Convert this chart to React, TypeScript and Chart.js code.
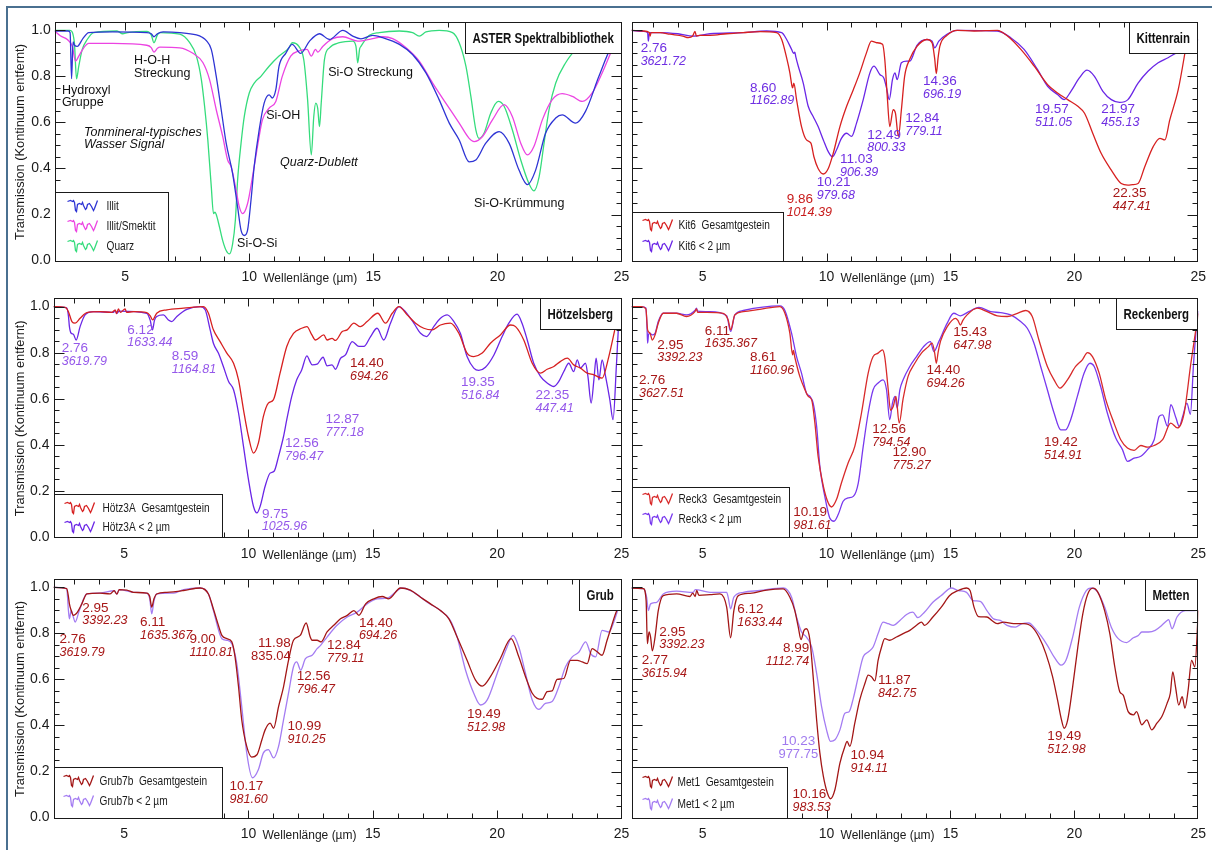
import { useEffect, useRef } from 'react';
import { Chart, registerables } from 'chart.js';

Chart.register(...registerables);

type Pt = [number, number];

const FONT = '"Liberation Sans", Arial, Helvetica, sans-serif';
const W = 1212;
const H = 850;

// ---------- tick values ----------
const X_TICKS = [5, 10, 15, 20, 25];
const Y_TICKS = [0, 0.2, 0.4, 0.6, 0.8, 1.0];

// ---------- ASTER library ----------
const ILLIT: Pt[] = [[2.16,0.997],[2.7,0.997],[2.78,0.99],[2.84,0.79],[2.9,0.95],[2.96,0.935],[3.07,0.93],[3.3,0.965],[3.53,0.99],[4.5,0.993],[5.87,0.99],[6.05,0.985],[6.16,0.972],[6.3,0.985],[6.53,0.993],[7.2,0.99],[7.87,0.98],[8.1,0.97],[8.27,0.955],[8.47,0.917],[8.67,0.8],[8.87,0.655],[9.07,0.51],[9.33,0.378],[9.53,0.233],[9.67,0.131],[9.8,0.109],[9.93,0.131],[10.07,0.262],[10.2,0.41],[10.4,0.568],[10.6,0.684],[10.8,0.72],[10.93,0.706],[11.07,0.742],[11.2,0.844],[11.47,0.9],[11.73,0.939],[12.07,0.9],[12.43,0.953],[12.83,0.985],[13.23,0.96],[13.77,1.0],[14.17,0.975],[14.5,0.963],[14.97,0.978],[15.38,0.968],[16.05,0.939],[16.58,0.895],[17.12,0.815],[17.65,0.699],[18.06,0.597],[18.46,0.524],[18.86,0.429],[19.13,0.437],[19.53,0.51],[20.07,0.56],[20.47,0.51],[20.87,0.393],[21.21,0.33],[21.54,0.393],[21.94,0.553],[22.35,0.619],[22.61,0.633],[23.15,0.597],[23.55,0.648],[24.09,0.8],[24.6,0.93],[25,0.97]];
const ILLIT_SMEKTIT: Pt[] = [[2.16,0.997],[2.4,0.975],[2.67,0.96],[2.87,0.93],[3.0,0.866],[3.13,0.888],[3.33,0.924],[3.53,0.943],[4.5,0.943],[5.87,0.935],[6.05,0.925],[6.16,0.905],[6.3,0.922],[6.4,0.927],[7.2,0.924],[7.73,0.9],[8.13,0.86],[8.4,0.786],[8.67,0.655],[8.93,0.539],[9.13,0.437],[9.27,0.408],[9.47,0.306],[9.6,0.233],[9.73,0.204],[9.93,0.247],[10.13,0.364],[10.33,0.495],[10.53,0.611],[10.8,0.662],[11.07,0.691],[11.33,0.8],[11.67,0.888],[12.0,0.91],[12.33,0.917],[12.5,0.888],[12.67,0.917],[12.76,0.905],[12.96,0.93],[13.36,0.964],[13.77,0.972],[14.37,0.953],[14.97,0.964],[15.38,0.972],[15.78,0.964],[16.32,0.924],[16.85,0.866],[17.39,0.771],[17.92,0.684],[18.46,0.597],[18.86,0.531],[19.06,0.517],[19.4,0.539],[19.8,0.611],[20.27,0.677],[20.6,0.626],[20.94,0.51],[21.21,0.459],[21.47,0.495],[21.81,0.611],[22.21,0.699],[22.61,0.725],[23.02,0.713],[23.42,0.691],[23.82,0.728],[24.22,0.815],[24.69,0.93],[25,0.98]];
const QUARZ: Pt[] = [[2.16,1.0],[2.77,1.0],[2.95,0.95],[3.04,0.789],[3.13,0.844],[3.27,0.917],[3.47,0.96],[3.73,0.99],[4.67,0.997],[4.9,0.985],[5.1,0.99],[5.87,0.995],[6.05,0.98],[6.16,0.946],[6.3,0.98],[6.4,0.99],[7.2,0.983],[7.6,0.946],[7.87,0.888],[8.07,0.786],[8.2,0.67],[8.33,0.524],[8.47,0.32],[8.56,0.204],[8.62,0.21],[8.67,0.2],[8.8,0.146],[8.93,0.087],[9.07,0.044],[9.2,0.029],[9.33,0.073],[9.44,0.175],[9.53,0.349],[9.67,0.51],[9.8,0.626],[10.0,0.728],[10.2,0.771],[10.47,0.8],[10.8,0.844],[11.2,0.888],[11.6,0.924],[11.73,0.946],[12.0,0.93],[12.2,0.87],[12.35,0.7],[12.5,0.459],[12.6,0.626],[12.68,0.684],[12.76,0.66],[12.83,0.582],[12.9,0.684],[13.03,0.873],[13.23,0.924],[13.63,0.946],[14.17,0.953],[14.3,0.93],[14.37,0.859],[14.45,0.92],[14.5,0.93],[14.84,0.978],[15.24,0.99],[16.05,0.997],[16.58,0.99],[16.85,0.975],[17.12,0.993],[17.65,1.0],[18.19,0.99],[18.46,0.946],[18.73,0.844],[18.93,0.713],[19.13,0.568],[19.26,0.531],[19.46,0.553],[19.73,0.64],[20.03,0.691],[20.27,0.67],[20.6,0.568],[20.94,0.437],[21.27,0.335],[21.47,0.303],[21.68,0.364],[21.88,0.51],[22.08,0.655],[22.35,0.771],[22.75,0.859],[23.15,0.917],[23.55,0.96],[24.0,0.99],[25,1.0]];

// ---------- Kittenrain ----------
const KIT6_GES: Pt[] = [[2.13,1.0],[2.6,0.997],[2.85,0.99],[2.88,0.975],[2.92,0.99],[3.28,0.99],[3.68,0.983],[4.2,0.975],[4.42,0.968],[4.6,0.975],[4.69,0.995],[4.75,0.975],[4.89,0.978],[5.3,0.978],[5.97,0.985],[6.64,0.99],[7.31,0.994],[7.98,0.99],[8.19,0.96],[8.39,0.88],[8.52,0.815],[8.6,0.76],[8.63,0.75],[8.68,0.77],[8.79,0.699],[8.99,0.582],[9.19,0.524],[9.37,0.51],[9.49,0.451],[9.66,0.4],[9.87,0.376],[10.07,0.4],[10.27,0.466],[10.54,0.582],[10.81,0.67],[11.08,0.742],[11.34,0.815],[11.61,0.902],[11.81,0.953],[12.02,0.946],[12.26,0.939],[12.35,0.873],[12.45,0.713],[12.55,0.582],[12.69,0.655],[12.78,0.64],[12.9,0.539],[13.02,0.655],[13.15,0.8],[13.36,0.875],[13.65,0.93],[14.05,0.96],[14.26,0.945],[14.36,0.88],[14.43,0.812],[14.5,0.88],[14.57,0.93],[14.86,0.978],[15.27,1.0],[15.95,0.997],[16.89,1.0],[17.3,0.975],[17.84,0.917],[18.38,0.844],[18.92,0.764],[19.32,0.728],[19.73,0.699],[20.14,0.67],[20.41,0.64],[20.74,0.553],[21.08,0.466],[21.49,0.393],[21.89,0.335],[22.16,0.328],[22.35,0.33],[22.57,0.335],[22.84,0.408],[23.18,0.495],[23.45,0.531],[23.65,0.524],[23.85,0.611],[24.19,0.742],[24.46,0.902],[24.59,0.99],[24.7,1.02]];
const KIT6_2UM: Pt[] = [[2.13,1.0],[2.6,0.995],[2.78,0.99],[2.81,0.953],[2.85,0.99],[3.28,0.99],[4.0,0.985],[4.62,0.975],[5.3,0.985],[6.64,0.99],[7.58,0.997],[8.19,0.99],[8.39,0.96],[8.59,0.917],[8.67,0.9],[8.72,0.905],[8.76,0.885],[8.86,0.844],[9.06,0.771],[9.26,0.67],[9.46,0.626],[9.66,0.582],[9.87,0.524],[10.07,0.473],[10.24,0.451],[10.4,0.48],[10.6,0.531],[10.81,0.553],[11.01,0.539],[11.21,0.597],[11.48,0.699],[11.75,0.815],[11.91,0.844],[12.15,0.808],[12.31,0.793],[12.42,0.75],[12.53,0.699],[12.66,0.786],[12.76,0.815],[12.85,0.786],[13.02,0.859],[13.23,0.866],[13.36,0.866],[13.65,0.935],[14.05,0.96],[14.26,0.953],[14.36,0.924],[14.53,0.953],[14.86,0.983],[15.27,1.0],[16.89,0.997],[17.43,0.968],[17.97,0.917],[18.51,0.83],[18.92,0.757],[19.32,0.721],[19.59,0.699],[19.86,0.735],[20.2,0.793],[20.51,0.827],[20.81,0.8],[21.15,0.735],[21.49,0.699],[21.82,0.687],[22.16,0.699],[22.57,0.771],[22.97,0.822],[23.38,0.859],[23.78,0.881],[24.12,0.902],[24.5,0.92],[25,0.96]];

// ---------- Hötzelsberg ----------
const HOETZ_GES: Pt[] = [[2.16,1.0],[2.63,0.997],[2.76,0.978],[2.9,0.935],[3.03,0.928],[3.23,0.949],[3.5,0.974],[4.03,0.978],[4.5,0.975],[4.64,0.985],[4.7,0.97],[4.77,0.99],[4.85,0.975],[5.04,0.99],[5.1,0.975],[5.38,0.978],[5.91,0.974],[6.05,0.96],[6.15,0.942],[6.25,0.96],[6.31,0.971],[6.72,0.986],[7.39,0.993],[8.19,1.0],[8.39,0.971],[8.59,0.899],[8.86,0.848],[9.13,0.798],[9.4,0.754],[9.6,0.682],[9.8,0.552],[10.0,0.436],[10.2,0.364],[10.4,0.408],[10.6,0.523],[10.8,0.581],[11.0,0.595],[11.27,0.711],[11.54,0.827],[11.81,0.884],[12.14,0.906],[12.35,0.913],[12.55,0.877],[12.69,0.855],[13.03,0.877],[13.16,0.855],[13.36,0.862],[13.5,0.853],[13.77,0.892],[13.97,0.899],[14.24,0.928],[14.5,0.913],[14.77,0.935],[15.2,0.971],[15.51,0.928],[15.78,0.971],[16.05,1.0],[16.38,0.964],[16.72,0.928],[17.05,0.906],[17.39,0.899],[17.72,0.92],[18.12,0.928],[18.46,0.884],[18.79,0.798],[19.06,0.783],[19.4,0.798],[19.73,0.841],[20.13,0.877],[20.54,0.92],[20.74,0.913],[21.07,0.855],[21.41,0.754],[21.74,0.711],[22.01,0.728],[22.28,0.74],[22.55,0.762],[22.82,0.776],[23.08,0.747],[23.35,0.733],[23.62,0.711],[23.89,0.704],[24.22,0.689],[24.49,0.783],[24.76,0.913],[24.89,0.971],[25,1.0]];
const HOETZ_2UM: Pt[] = [[2.16,1.0],[2.69,0.994],[2.76,0.96],[2.8,0.913],[2.87,0.884],[2.96,0.88],[3.07,0.855],[3.23,0.913],[3.43,0.964],[3.77,0.978],[4.57,0.975],[4.64,0.985],[4.7,0.97],[4.8,0.98],[5.91,0.971],[6.05,0.94],[6.14,0.899],[6.22,0.94],[6.31,0.957],[6.58,0.964],[6.78,0.942],[6.92,0.935],[7.12,0.957],[7.52,0.988],[8.06,1.0],[8.26,0.986],[8.46,0.899],[8.59,0.841],[8.79,0.798],[8.99,0.74],[9.2,0.675],[9.4,0.639],[9.6,0.538],[9.8,0.393],[10.0,0.249],[10.2,0.133],[10.34,0.104],[10.47,0.133],[10.67,0.22],[10.87,0.277],[11.03,0.285],[11.21,0.35],[11.41,0.436],[11.54,0.509],[11.74,0.61],[11.94,0.682],[12.14,0.725],[12.35,0.786],[12.48,0.76],[12.56,0.747],[12.76,0.75],[13.0,0.78],[13.16,0.743],[13.36,0.747],[13.5,0.728],[13.7,0.775],[13.9,0.79],[14.17,0.848],[14.44,0.827],[14.64,0.827],[14.91,0.87],[15.17,0.906],[15.44,0.855],[15.71,0.928],[16.05,1.0],[16.31,0.978],[16.65,0.928],[16.92,0.884],[17.16,0.87],[17.45,0.913],[17.72,0.949],[17.99,0.964],[18.26,0.935],[18.52,0.884],[18.79,0.783],[19.06,0.733],[19.26,0.723],[19.53,0.737],[19.87,0.79],[20.2,0.87],[20.47,0.928],[20.8,0.967],[21.0,0.928],[21.21,0.855],[21.47,0.754],[21.74,0.697],[22.01,0.668],[22.28,0.653],[22.48,0.675],[22.68,0.718],[22.88,0.754],[23.08,0.718],[23.22,0.769],[23.35,0.733],[23.55,0.754],[23.65,0.697],[23.78,0.581],[23.89,0.682],[23.98,0.776],[24.09,0.682],[24.22,0.769],[24.36,0.697],[24.53,0.596],[24.66,0.509],[24.8,0.754],[24.89,0.928],[25,1.0]];

// ---------- Reckenberg ----------
const RECK3_GES: Pt[] = [[2.13,1.0],[2.54,1.0],[2.71,0.99],[2.78,0.899],[2.88,0.884],[2.97,0.855],[3.08,0.877],[3.21,0.928],[3.41,0.971],[3.95,0.971],[4.35,0.957],[4.69,0.978],[4.75,0.99],[4.8,0.975],[5.16,0.975],[5.83,0.971],[6.03,0.942],[6.13,0.899],[6.3,0.964],[6.64,0.978],[7.31,0.988],[8.12,1.0],[8.32,0.971],[8.52,0.884],[8.63,0.79],[8.66,0.81],[8.72,0.78],[8.92,0.697],[9.13,0.639],[9.26,0.61],[9.4,0.595],[9.53,0.494],[9.66,0.35],[9.87,0.22],[10.07,0.147],[10.2,0.13],[10.4,0.162],[10.6,0.234],[10.87,0.321],[11.14,0.393],[11.41,0.538],[11.68,0.711],[11.88,0.783],[12.08,0.798],[12.26,0.812],[12.35,0.78],[12.49,0.639],[12.58,0.55],[12.69,0.566],[12.8,0.61],[12.93,0.494],[13.09,0.6],[13.29,0.697],[13.56,0.754],[13.83,0.798],[14.1,0.825],[14.26,0.841],[14.36,0.8],[14.43,0.754],[14.5,0.8],[14.6,0.85],[14.87,0.913],[15.2,0.949],[15.3,0.94],[15.4,0.92],[15.5,0.94],[15.67,0.964],[16.08,0.993],[16.48,0.978],[16.89,0.96],[17.29,0.957],[17.7,0.971],[18.03,0.983],[18.3,0.957],[18.57,0.855],[18.91,0.74],[19.18,0.682],[19.42,0.646],[19.72,0.682],[20.05,0.74],[20.32,0.769],[20.53,0.8],[20.73,0.783],[21.0,0.711],[21.27,0.595],[21.6,0.494],[21.87,0.422],[22.14,0.386],[22.41,0.376],[22.68,0.397],[22.95,0.39],[23.22,0.397],[23.56,0.422],[23.89,0.494],[24.16,0.473],[24.43,0.538],[24.7,0.754],[24.9,0.899],[25,0.97]];
const RECK3_2UM: Pt[] = [[2.13,1.0],[2.54,1.0],[2.71,0.994],[2.76,0.9],[2.78,0.841],[2.82,0.88],[2.88,0.884],[2.97,0.877],[3.08,0.884],[3.21,0.935],[3.41,0.971],[3.95,0.971],[4.35,0.964],[4.69,0.983],[4.75,0.993],[4.8,0.98],[5.3,0.978],[5.97,0.96],[6.13,0.892],[6.3,0.964],[6.64,0.983],[8.12,1.003],[8.32,0.983],[8.59,0.884],[8.79,0.783],[8.99,0.711],[9.19,0.624],[9.33,0.61],[9.46,0.581],[9.6,0.48],[9.73,0.306],[9.93,0.176],[10.13,0.082],[10.3,0.068],[10.47,0.097],[10.67,0.155],[10.87,0.169],[11.08,0.176],[11.28,0.234],[11.48,0.393],[11.68,0.538],[11.88,0.639],[12.08,0.668],[12.28,0.682],[12.42,0.639],[12.55,0.509],[12.66,0.581],[12.76,0.61],[12.85,0.559],[12.96,0.639],[13.09,0.682],[13.36,0.74],[13.63,0.783],[13.92,0.827],[14.19,0.848],[14.33,0.805],[14.53,0.848],[14.87,0.928],[15.13,0.971],[15.4,0.96],[15.74,0.978],[16.15,0.997],[16.62,0.978],[17.02,0.974],[17.43,0.964],[17.83,0.935],[18.1,0.906],[18.37,0.841],[18.64,0.74],[18.91,0.639],[19.18,0.538],[19.45,0.465],[19.65,0.465],[19.85,0.509],[20.12,0.61],[20.39,0.711],[20.63,0.754],[20.8,0.74],[21.06,0.653],[21.33,0.538],[21.67,0.429],[21.94,0.379],[22.14,0.328],[22.41,0.342],[22.68,0.35],[22.95,0.379],[23.22,0.422],[23.42,0.523],[23.56,0.53],[23.76,0.48],[23.89,0.574],[24.1,0.516],[24.23,0.48],[24.37,0.523],[24.54,0.581],[24.68,0.532],[24.81,0.754],[24.95,0.942],[25,0.98]];

// ---------- Grub ----------
const GRUB7B_GES: Pt[] = [[2.16,1.0],[2.69,0.994],[2.76,0.96],[2.8,0.928],[2.87,0.9],[2.96,0.878],[3.07,0.885],[3.16,0.899],[3.3,0.928],[3.5,0.971],[4.03,0.975],[4.43,0.971],[4.6,0.985],[4.71,0.97],[4.8,0.99],[5.11,0.988],[5.38,0.978],[5.91,0.975],[6.03,0.96],[6.11,0.914],[6.2,0.95],[6.31,0.971],[6.72,0.978],[7.39,0.986],[8.06,0.997],[8.39,0.971],[8.59,0.906],[8.79,0.835],[8.93,0.791],[9.13,0.777],[9.33,0.763],[9.46,0.698],[9.6,0.568],[9.73,0.424],[9.93,0.309],[10.13,0.263],[10.34,0.273],[10.54,0.338],[10.67,0.381],[10.87,0.41],[11.01,0.388],[11.21,0.482],[11.41,0.568],[11.61,0.683],[11.81,0.77],[12.08,0.791],[12.32,0.845],[12.48,0.785],[12.56,0.77],[12.76,0.77],[12.92,0.763],[13.16,0.806],[13.43,0.835],[13.7,0.863],[13.97,0.878],[14.24,0.899],[14.44,0.878],[14.71,0.928],[15.04,0.95],[15.38,0.96],[15.64,0.95],[16.11,0.997],[16.51,0.988],[16.92,0.957],[17.32,0.928],[17.72,0.899],[18.06,0.863],[18.39,0.784],[18.79,0.683],[19.13,0.597],[19.4,0.571],[19.73,0.612],[20.13,0.691],[20.56,0.777],[20.87,0.698],[21.14,0.612],[21.41,0.54],[21.61,0.518],[21.81,0.514],[22.01,0.547],[22.21,0.55],[22.41,0.6],[22.68,0.604],[22.95,0.683],[23.22,0.683],[23.42,0.676],[23.62,0.669],[23.82,0.734],[24.02,0.72],[24.22,0.705],[24.42,0.77],[24.76,0.885],[24.89,0.921],[25,0.95]];
const GRUB7B_2UM: Pt[] = [[2.16,1.0],[2.69,0.994],[2.76,0.9],[2.8,0.863],[2.87,0.9],[2.96,0.87],[3.03,0.849],[3.2,0.9],[3.5,0.971],[4.03,0.975],[4.6,0.985],[4.71,0.97],[4.8,0.99],[5.38,0.978],[5.91,0.975],[6.03,0.95],[6.11,0.885],[6.2,0.94],[6.31,0.971],[7.0,0.975],[7.39,0.99],[8.06,0.997],[8.39,0.971],[8.59,0.899],[8.93,0.777],[9.13,0.77],[9.33,0.755],[9.53,0.669],[9.73,0.482],[9.93,0.281],[10.16,0.173],[10.4,0.209],[10.6,0.281],[10.8,0.295],[11.01,0.259],[11.21,0.309],[11.41,0.424],[11.61,0.54],[11.81,0.655],[11.94,0.676],[12.1,0.64],[12.29,0.69],[12.56,0.705],[12.76,0.734],[12.9,0.748],[13.16,0.784],[13.56,0.835],[13.97,0.871],[14.37,0.892],[14.77,0.928],[15.17,0.95],[15.58,0.953],[16.18,0.997],[16.65,0.978],[17.19,0.935],[17.72,0.899],[18.12,0.856],[18.39,0.784],[18.73,0.64],[19.06,0.54],[19.33,0.489],[19.6,0.511],[20.0,0.626],[20.4,0.741],[20.64,0.791],[20.87,0.741],[21.14,0.626],[21.41,0.511],[21.68,0.47],[21.94,0.496],[22.21,0.504],[22.48,0.568],[22.75,0.655],[23.02,0.698],[23.29,0.719],[23.56,0.763],[23.76,0.712],[23.96,0.698],[24.22,0.813],[24.49,0.806],[24.69,0.849],[24.89,0.914],[25,0.95]];

// ---------- Metten ----------
const MET1_GES: Pt[] = [[2.13,0.997],[2.61,0.994],[2.72,0.942],[2.77,0.755],[2.84,0.806],[2.9,0.784],[2.97,0.724],[3.08,0.784],[3.21,0.899],[3.41,0.964],[3.95,0.971],[4.49,0.96],[4.6,0.975],[4.7,0.96],[4.76,0.986],[4.85,0.965],[5.3,0.968],[5.7,0.971],[5.97,0.914],[6.13,0.781],[6.26,0.899],[6.44,0.964],[6.91,0.974],[7.58,0.988],[8.25,0.993],[8.52,0.957],[8.72,0.899],[8.86,0.827],[8.97,0.773],[9.09,0.813],[9.19,0.82],[9.33,0.77],[9.46,0.612],[9.6,0.424],[9.73,0.281],[9.87,0.18],[10.03,0.108],[10.16,0.082],[10.34,0.122],[10.54,0.237],[10.74,0.309],[10.83,0.331],[10.94,0.309],[11.14,0.41],[11.34,0.511],[11.55,0.583],[11.68,0.619],[11.81,0.612],[11.95,0.594],[12.08,0.683],[12.22,0.741],[12.35,0.777],[12.55,0.77],[12.82,0.784],[13.09,0.799],[13.36,0.813],[13.63,0.835],[13.83,0.849],[13.95,0.835],[14.29,0.871],[14.63,0.914],[14.97,0.964],[15.31,0.986],[15.65,0.997],[15.79,0.986],[15.95,0.914],[16.13,0.873],[16.47,0.871],[16.67,0.856],[16.88,0.842],[17.15,0.849],[17.55,0.842],[17.96,0.842],[18.3,0.827],[18.57,0.784],[18.85,0.712],[19.12,0.612],[19.32,0.511],[19.48,0.424],[19.59,0.388],[19.73,0.424],[19.93,0.568],[20.14,0.741],[20.34,0.885],[20.54,0.971],[20.75,0.996],[20.95,0.978],[21.22,0.899],[21.43,0.799],[21.63,0.655],[21.83,0.547],[21.97,0.532],[22.17,0.46],[22.38,0.446],[22.51,0.46],[22.72,0.403],[22.92,0.424],[23.12,0.381],[23.33,0.41],[23.53,0.439],[23.74,0.496],[23.87,0.54],[23.97,0.633],[24.08,0.568],[24.21,0.489],[24.35,0.525],[24.46,0.475],[24.59,0.554],[24.73,0.683],[24.86,0.655],[25,0.899]];
const MET1_2UM: Pt[] = [[2.13,0.997],[2.61,0.994],[2.74,0.957],[2.81,0.899],[2.9,0.928],[3.15,0.935],[3.41,0.971],[3.95,0.983],[4.62,0.978],[4.7,0.99],[5.3,0.978],[5.97,0.978],[6.03,0.957],[6.13,0.906],[6.26,0.957],[6.64,0.978],[7.31,0.986],[8.25,0.997],[8.59,0.957],[8.79,0.871],[8.99,0.806],[9.19,0.784],[9.4,0.741],[9.6,0.626],[9.8,0.482],[10.0,0.381],[10.16,0.331],[10.34,0.338],[10.54,0.381],[10.74,0.453],[10.91,0.46],[11.08,0.518],[11.28,0.612],[11.48,0.698],[11.68,0.719],[11.88,0.741],[12.08,0.799],[12.28,0.849],[12.49,0.842],[12.69,0.835],[12.96,0.856],[13.23,0.882],[13.48,0.892],[13.68,0.868],[13.95,0.892],[14.29,0.935],[14.63,0.964],[15.04,0.997],[15.31,0.986],[15.65,0.978],[15.92,0.942],[16.2,0.939],[16.47,0.899],[16.74,0.863],[17.01,0.856],[17.28,0.835],[17.62,0.827],[17.89,0.842],[18.17,0.845],[18.37,0.827],[18.64,0.791],[18.91,0.748],[19.18,0.698],[19.46,0.662],[19.66,0.683],[19.93,0.784],[20.2,0.914],[20.48,0.986],[20.68,0.997],[20.95,0.978],[21.22,0.914],[21.49,0.827],[21.77,0.777],[22.11,0.76],[22.38,0.781],[22.58,0.791],[22.72,0.806],[22.99,0.806],[23.26,0.813],[23.53,0.835],[23.74,0.856],[23.8,0.86],[23.94,0.82],[24.14,0.871],[24.48,0.899],[24.82,0.899],[25,0.9]];

// ---------- peak labels: [x, y, value, wavenumber] ----------
type Ann = { x: number; y: number; t: string; s: string; c: string; al?: CanvasTextAlign; up?: boolean };
const VIO_L = '#6f2fe2';
const VIO_L2 = '#9558ea';
const RED_L = '#a81818';
const LVIO_L = '#a07aee';

const KITT_ANN: Ann[] = [
  { x: 2.5, y: 0.921, t: '2.76', s: '3621.72', c: VIO_L },
  { x: 6.91, y: 0.75, t: '8.60', s: '1162.89', c: VIO_L },
  { x: 10.54, y: 0.441, t: '11.03', s: '906.39', c: VIO_L },
  { x: 9.6, y: 0.338, t: '10.21', s: '979.68', c: VIO_L },
  { x: 8.39, y: 0.266, t: '9.86', s: '1014.39', c: '#c81c1c' },
  { x: 11.64, y: 0.546, t: '12.49', s: '800.33', c: VIO_L },
  { x: 13.18, y: 0.619, t: '12.84', s: '779.11', c: VIO_L },
  { x: 13.89, y: 0.779, t: '14.36', s: '696.19', c: VIO_L },
  { x: 18.41, y: 0.655, t: '19.57', s: '511.05', c: VIO_L },
  { x: 21.08, y: 0.655, t: '21.97', s: '455.13', c: VIO_L },
  { x: 21.55, y: 0.291, t: '22.35', s: '447.41', c: RED_L },
];
const HOETZ_ANN: Ann[] = [
  { x: 2.49, y: 0.819, t: '2.76', s: '3619.79', c: VIO_L2 },
  { x: 5.13, y: 0.899, t: '6.12', s: '1633.44', c: VIO_L2 },
  { x: 6.92, y: 0.783, t: '8.59', s: '1164.81', c: VIO_L2 },
  { x: 11.47, y: 0.405, t: '12.56', s: '796.47', c: VIO_L2 },
  { x: 10.54, y: 0.1, t: '9.75', s: '1025.96', c: VIO_L2 },
  { x: 14.08, y: 0.754, t: '14.40', s: '694.26', c: RED_L },
  { x: 13.1, y: 0.509, t: '12.87', s: '777.18', c: VIO_L2 },
  { x: 18.55, y: 0.672, t: '19.35', s: '516.84', c: VIO_L2 },
  { x: 21.54, y: 0.614, t: '22.35', s: '447.41', c: VIO_L2 },
];
const RECK_ANN: Ann[] = [
  { x: 3.17, y: 0.834, t: '2.95', s: '3392.23', c: RED_L },
  { x: 5.09, y: 0.894, t: '6.11', s: '1635.367', c: RED_L },
  { x: 6.91, y: 0.78, t: '8.61', s: '1160.96', c: RED_L },
  { x: 2.43, y: 0.679, t: '2.76', s: '3627.51', c: RED_L },
  { x: 8.66, y: 0.107, t: '10.19', s: '981.61', c: RED_L },
  { x: 11.84, y: 0.468, t: '12.56', s: '794.54', c: RED_L },
  { x: 12.66, y: 0.367, t: '12.90', s: '775.27', c: RED_L },
  { x: 14.03, y: 0.723, t: '14.40', s: '694.26', c: RED_L },
  { x: 15.11, y: 0.887, t: '15.43', s: '647.98', c: RED_L },
  { x: 18.77, y: 0.41, t: '19.42', s: '514.91', c: RED_L },
];
const GRUB_ANN: Ann[] = [
  { x: 3.32, y: 0.911, t: '2.95', s: '3392.23', c: RED_L },
  { x: 2.4, y: 0.774, t: '2.76', s: '3619.79', c: RED_L },
  { x: 5.64, y: 0.849, t: '6.11', s: '1635.367', c: RED_L },
  { x: 7.63, y: 0.774, t: '9.00', s: '1110.81', c: RED_L },
  { x: 11.7, y: 0.758, t: '11.98', s: '835.04', c: RED_L, al: 'right', up: true },
  { x: 11.94, y: 0.614, t: '12.56', s: '796.47', c: RED_L },
  { x: 11.57, y: 0.396, t: '10.99', s: '910.25', c: RED_L },
  { x: 9.24, y: 0.137, t: '10.17', s: '981.60', c: RED_L },
  { x: 13.16, y: 0.748, t: '12.84', s: '779.11', c: RED_L },
  { x: 14.44, y: 0.845, t: '14.40', s: '694.26', c: RED_L },
  { x: 18.79, y: 0.449, t: '19.49', s: '512.98', c: RED_L },
];
const MET_ANN: Ann[] = [
  { x: 6.4, y: 0.904, t: '6.12', s: '1633.44', c: RED_L },
  { x: 3.25, y: 0.806, t: '2.95', s: '3392.23', c: RED_L },
  { x: 2.54, y: 0.681, t: '2.77', s: '3615.94', c: RED_L },
  { x: 9.3, y: 0.734, t: '8.99', s: '1112.74', c: RED_L, al: 'right' },
  { x: 8.86, y: 0.331, t: '10.23', s: '977.75', c: LVIO_L, al: 'center', up: true },
  { x: 10.97, y: 0.269, t: '10.94', s: '914.11', c: RED_L },
  { x: 8.63, y: 0.101, t: '10.16', s: '983.53', c: RED_L },
  { x: 12.08, y: 0.597, t: '11.87', s: '842.75', c: RED_L },
  { x: 18.91, y: 0.353, t: '19.49', s: '512.98', c: RED_L },
];

// ---------- band names for the library panel ----------
type Note = { x: number; y: number; t: string; it?: boolean };
const ASTER_NOTES: Note[] = [
  { x: 2.45, y: 0.74, t: 'Hydroxyl' },
  { x: 2.45, y: 0.688, t: 'Gruppe' },
  { x: 5.36, y: 0.867, t: 'H-O-H' },
  { x: 5.36, y: 0.812, t: 'Streckung' },
  { x: 3.34, y: 0.558, t: 'Tonmineral-typisches', it: true },
  { x: 3.34, y: 0.502, t: 'Wasser Signal', it: true },
  { x: 10.68, y: 0.628, t: 'Si-OH' },
  { x: 11.24, y: 0.428, t: 'Quarz-Dublett', it: true },
  { x: 9.51, y: 0.072, t: 'Si-O-Si' },
  { x: 13.18, y: 0.815, t: 'Si-O Streckung' },
  { x: 19.06, y: 0.246, t: 'Si-O-Krümmung' },
];

// ---------- layout / style ----------
type Series = { d: Pt[]; c: string; label: string };
type Leg = { w: number; h: number; dy: number[]; ix: number; tx: number };
type Panel = {
  L: number; T: number; R: number; B: number; xmin: number; yAxis: boolean;
  title: string; series: Series[]; leg: Leg; anns: Ann[]; notes: Note[];
};

const C_BLUE = '#2e34d4';
const C_MAG = '#ec44e2';
const C_GREEN = '#35dc7c';
const C_RED = '#d72020';
const C_DRED = '#a31616';
const C_VIO = '#6a26e6';
const C_LVIO = '#a47cf2';

const ROW = [
  { T: 22, B: 262 },
  { T: 298.3, B: 538.3 },
  { T: 579, B: 819 },
];

const PANELS: Panel[] = [
  {
    L: 54.7, T: ROW[0].T, R: 621.5, B: ROW[0].B, xmin: 2.16, yAxis: true, title: 'ASTER Spektralbibliothek',
    series: [{ d: ILLIT, c: C_BLUE, label: 'Illit' }, { d: ILLIT_SMEKTIT, c: C_MAG, label: 'Illit/Smektit' }, { d: QUARZ, c: C_GREEN, label: 'Quarz' }],
    leg: { w: 113, h: 69, dy: [14, 34, 54], ix: 12, tx: 51 }, anns: [], notes: ASTER_NOTES,
  },
  {
    L: 631.5, T: ROW[0].T, R: 1198.3, B: ROW[0].B, xmin: 2.13, yAxis: false, title: 'Kittenrain',
    series: [{ d: KIT6_GES, c: C_RED, label: 'Kit6  Gesamtgestein' }, { d: KIT6_2UM, c: C_VIO, label: 'Kit6 < 2 µm' }],
    leg: { w: 151, h: 49, dy: [13, 34], ix: 10, tx: 46 }, anns: KITT_ANN, notes: [],
  },
  {
    L: 53.5, T: ROW[1].T, R: 621.5, B: ROW[1].B, xmin: 2.16, yAxis: true, title: 'Hötzelsberg',
    series: [{ d: HOETZ_GES, c: C_RED, label: 'Hötz3A  Gesamtgestein' }, { d: HOETZ_2UM, c: C_VIO, label: 'Hötz3A < 2 µm' }],
    leg: { w: 168, h: 43, dy: [14, 33], ix: 10, tx: 48 }, anns: HOETZ_ANN, notes: [],
  },
  {
    L: 631.5, T: ROW[1].T, R: 1198.3, B: ROW[1].B, xmin: 2.13, yAxis: false, title: 'Reckenberg',
    series: [{ d: RECK3_GES, c: '#d82a2a', label: 'Reck3  Gesamtgestein' }, { d: RECK3_2UM, c: '#7838ee', label: 'Reck3 < 2 µm' }],
    leg: { w: 157, h: 50, dy: [12, 32], ix: 10, tx: 46 }, anns: RECK_ANN, notes: [],
  },
  {
    L: 53.5, T: ROW[2].T, R: 621.5, B: ROW[2].B, xmin: 2.16, yAxis: true, title: 'Grub',
    series: [{ d: GRUB7B_GES, c: C_DRED, label: 'Grub7b  Gesamtgestein' }, { d: GRUB7B_2UM, c: C_LVIO, label: 'Grub7b < 2 µm' }],
    leg: { w: 168, h: 51, dy: [14, 34], ix: 9, tx: 45 }, anns: GRUB_ANN, notes: [],
  },
  {
    L: 631.5, T: ROW[2].T, R: 1198.3, B: ROW[2].B, xmin: 2.13, yAxis: false, title: 'Metten',
    series: [{ d: MET1_GES, c: C_DRED, label: 'Met1  Gesamtgestein' }, { d: MET1_2UM, c: C_LVIO, label: 'Met1 < 2 µm' }],
    leg: { w: 155, h: 51, dy: [15, 37], ix: 10, tx: 45 }, anns: MET_ANN, notes: [],
  },
];

// small spectrum glyph used in the legends
const ICON: Pt[] = [[0,1],[3,0],[5,1],[6,0],[7,2],[8,10],[9,11],[10,4],[12,3],[14,4],[15,2],[16,5],[18,9],[19,8],[20,4],[22,3],[24,6],[26,10],[27,8],[30,0]];

const Y_W = 45;
const X_H = 30;

function narrow(ctx: CanvasRenderingContext2D, text: string, x: number, y: number, font: string, sx: number) {
  ctx.save();
  ctx.font = font;
  ctx.translate(x, y);
  ctx.scale(sx, 1);
  ctx.fillText(text, 0, 0);
  ctx.restore();
}

function makeDeco(p: Panel) {
  return {
    id: 'deco',
    afterDatasetsDraw(chart: any) {
      const ctx: CanvasRenderingContext2D = chart.ctx;
      const xs = chart.scales.x;
      const ys = chart.scales.y;
      const { left, right, top, bottom } = chart.chartArea;
      const l = Math.round(left) + 0.5, r = Math.round(right) - 0.5;
      const t = Math.round(top) + 0.5, b = Math.round(bottom) - 0.5;
      ctx.save();

      // peak labels
      ctx.textBaseline = 'middle';
      for (const a of p.anns) {
        const px = xs.getPixelForValue(a.x);
        const py = ys.getPixelForValue(a.y);
        ctx.fillStyle = a.c;
        ctx.textAlign = a.al || 'left';
        ctx.font = `13.5px ${FONT}`;
        ctx.fillText(a.t, px, py);
        ctx.font = a.up ? `13px ${FONT}` : `italic 12.5px ${FONT}`;
        ctx.fillText(a.s, px, py + 13);
      }
      // band notes
      ctx.textAlign = 'left';
      ctx.fillStyle = '#111';
      for (const n of p.notes) {
        ctx.font = `${n.it ? 'italic ' : ''}12.5px ${FONT}`;
        ctx.fillText(n.t, xs.getPixelForValue(n.x), ys.getPixelForValue(n.y));
      }

      // frame + inward ticks
      ctx.strokeStyle = '#1a1a1a';
      ctx.lineWidth = 1;
      ctx.strokeRect(l, t, r - l, b - t);
      ctx.beginPath();
      for (let i = 0; i <= 20; i++) {
        const py = Math.round(ys.getPixelForValue(i * 0.05)) + 0.5;
        const len = i % 4 === 0 ? 10 : 5;
        ctx.moveTo(l, py); ctx.lineTo(l + len, py);
        ctx.moveTo(r, py); ctx.lineTo(r - len, py);
      }
      for (let v = 3; v < 25; v++) {
        const px = Math.round(xs.getPixelForValue(v)) + 0.5;
        const len = v % 5 === 0 ? 8 : 5;
        ctx.moveTo(px, t); ctx.lineTo(px, t + len);
        ctx.moveTo(px, b); ctx.lineTo(px, b - len);
      }
      ctx.stroke();

      // title box
      const tf = `bold 14.5px ${FONT}`;
      ctx.font = tf;
      const tw = ctx.measureText(p.title).width * 0.79;
      const bw = Math.round(tw + 15);
      ctx.fillStyle = '#fff';
      ctx.fillRect(r - bw, t, bw, 31);
      ctx.strokeRect(r - bw, t, bw, 31);
      ctx.fillStyle = '#111';
      ctx.textAlign = 'left';
      ctx.textBaseline = 'middle';
      narrow(ctx, p.title, r - bw + 7, t + 16, tf, 0.79);

      // legend box
      const lg = p.leg;
      const lx = l, ly = b - lg.h;
      ctx.fillStyle = '#fff';
      ctx.fillRect(lx, ly, lg.w, lg.h);
      ctx.strokeRect(lx, ly, lg.w, lg.h);
      p.series.forEach((s, i) => {
        const cy = ly + lg.dy[i];
        ctx.beginPath();
        ICON.forEach(([ix, iy], k) => {
          const X = lx + lg.ix + ix, Y = cy - 6 + iy;
          if (k === 0) ctx.moveTo(X, Y); else ctx.lineTo(X, Y);
        });
        ctx.strokeStyle = s.c;
        ctx.lineWidth = 1.3;
        ctx.stroke();
        ctx.fillStyle = '#1a1a1a';
        narrow(ctx, s.label, lx + lg.tx, cy, `13px ${FONT}`, 0.78);
      });
      ctx.strokeStyle = '#1a1a1a';
      ctx.lineWidth = 1;

      // axis titles
      ctx.fillStyle = '#1a1a1a';
      ctx.font = `12px ${FONT}`;
      ctx.textAlign = 'left';
      ctx.fillText('Wellenlänge (µm)', xs.getPixelForValue(10) + 14, bottom + 17);
      if (p.yAxis) {
        ctx.save();
        ctx.translate(20, (top + bottom) / 2);
        ctx.rotate(-Math.PI / 2);
        ctx.textAlign = 'center';
        ctx.font = `12.8px ${FONT}`;
        ctx.fillText('Transmission (Kontinuum entfernt)', 0, 0);
        ctx.restore();
      }
      ctx.restore();
    },
  };
}

function PanelChart({ p }: { p: Panel }) {
  const ref = useRef<HTMLCanvasElement>(null);
  useEffect(() => {
    const yW = p.yAxis ? Y_W : 0;
    const chart = new Chart(ref.current as HTMLCanvasElement, {
      type: 'line',
      data: {
        datasets: p.series.map((s) => ({
          label: s.label,
          data: s.d.map(([x, y]) => ({ x, y })),
          borderColor: s.c,
          borderWidth: 1.3,
          pointRadius: 0,
          fill: false,
          cubicInterpolationMode: 'monotone' as const,
        })),
      },
      options: {
        responsive: false,
        animation: false,
        devicePixelRatio: 1,
        events: [],
        layout: { padding: { left: p.L - yW, top: p.T, right: W - p.R, bottom: H - p.B - X_H } },
        plugins: { legend: { display: false }, tooltip: { enabled: false } },
        scales: {
          x: {
            type: 'linear',
            min: p.xmin,
            max: 25,
            grid: { display: false, drawTicks: false },
            border: { display: false },
            ticks: { font: { family: FONT, size: 14 }, color: '#1a1a1a', padding: 7, autoSkip: false, maxRotation: 0, callback: (v: any) => String(v) },
            afterBuildTicks: (s: any) => { s.ticks = X_TICKS.map((v) => ({ value: v })); },
            afterFit: (s: any) => { s.height = X_H; s.paddingLeft = 0; s.paddingRight = 0; },
          },
          y: {
            type: 'linear',
            min: -0.006,
            max: 1.036,
            grid: { display: false, drawTicks: false },
            border: { display: false },
            ticks: { display: p.yAxis, font: { family: FONT, size: 14 }, color: '#1a1a1a', padding: 4, callback: (v: any) => Number(v).toFixed(1) },
            afterBuildTicks: (s: any) => { s.ticks = Y_TICKS.map((v) => ({ value: v })); },
            afterFit: (s: any) => { s.width = yW; s.paddingTop = 0; s.paddingBottom = 0; },
          },
        },
      },
      plugins: [makeDeco(p)],
    } as any);
    return () => chart.destroy();
  }, [p]);
  return <canvas ref={ref} width={W} height={H} style={{ position: 'absolute', left: 0, top: 0, width: W, height: H }} />;
}

export default function App() {
  return (
    <div style={{ position: 'absolute', left: 0, top: 0, width: W, height: H, overflow: 'hidden', background: '#fff' }}>
      <div style={{ position: 'absolute', left: 6, top: 6, width: 1400, height: 1000, border: '2px solid #4a7090', boxSizing: 'border-box' }} />
      {PANELS.map((p, i) => (
        <PanelChart key={i} p={p} />
      ))}
    </div>
  );
}
